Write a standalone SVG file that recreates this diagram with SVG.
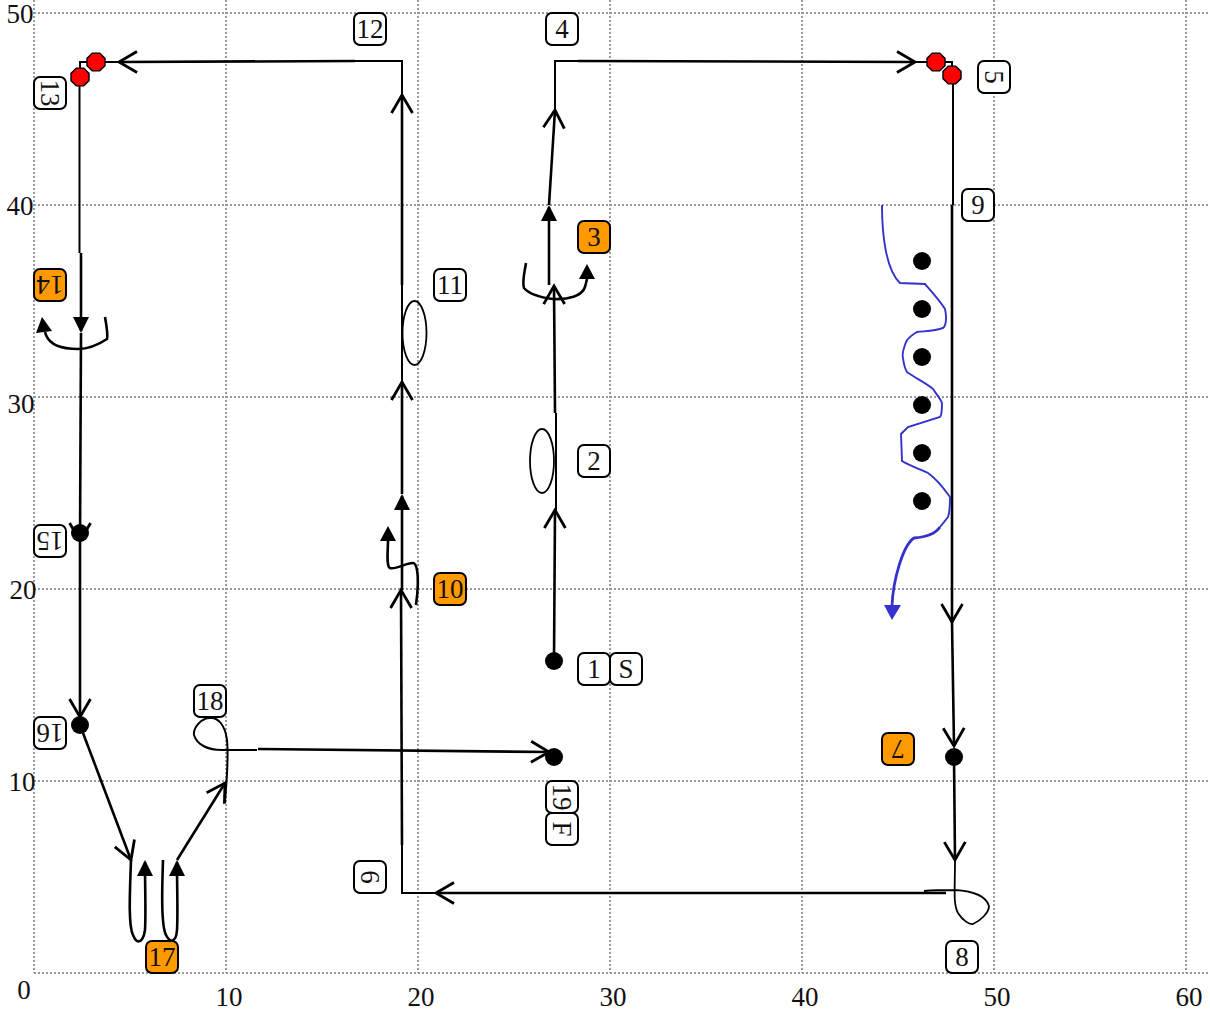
<svg xmlns="http://www.w3.org/2000/svg" width="1210" height="1018" viewBox="0 0 1210 1018">
<style>
text{font-family:"Liberation Serif","Times New Roman",serif;fill:#111}
.ax{font-size:27px;text-anchor:middle}
.lb{font-size:27px;text-anchor:middle;dominant-baseline:central}
.b{fill:#fff;stroke:#000;stroke-width:2}
.o{fill:#ff9900;stroke:#000;stroke-width:2}
.g{stroke:#999;stroke-width:2;stroke-dasharray:2 2;fill:none}
.t{fill:none;stroke:#000;stroke-width:2.6}
.n{fill:none;stroke:#000;stroke-width:2}
.c{fill:none;stroke:#000;stroke-width:1.8}
.op{marker-end:url(#open)}
.so{marker-end:url(#solid)}
.r{fill:#ff0000;stroke:#000;stroke-width:1.4}
</style>
<defs>
<marker id="open" markerUnits="userSpaceOnUse" markerWidth="24" markerHeight="28" refX="21" refY="12" orient="auto" overflow="visible"><path d="M3,1.500 L21,12 L3,22.500" fill="none" stroke="#000" stroke-width="2.800"/></marker>
<marker id="solid" markerUnits="userSpaceOnUse" markerWidth="20" markerHeight="20" refX="14" refY="8" orient="auto" overflow="visible"><polygon points="0,0 16,8 0,16" fill="#000"/></marker>
</defs>
<g id="grid">
<path class="g" d="M34,13H1210M34,205H1210M34,397H1210M34,589H1210M34,781H1210M34,973H1210M34,0V973M226,0V973M418,0V973M610,0V973M802,0V973M994,0V973M1186,0V973"/>
<text class="ax" x="20" y="23">50</text><text class="ax" x="20" y="215">40</text><text class="ax" x="21" y="413">30</text><text class="ax" x="23" y="599">20</text><text class="ax" x="22" y="791">10</text>
<text class="ax" x="24" y="999">0</text><text class="ax" x="229" y="1006">10</text><text class="ax" x="421" y="1006">20</text><text class="ax" x="613" y="1006">30</text><text class="ax" x="805" y="1006">40</text><text class="ax" x="997" y="1006">50</text><text class="ax" x="1189" y="1006">60</text>
</g>
<g id="connectors">
<path class="t op" d="M554,661L555,510"/>
<path class="n" d="M556,510V413"/>
<path class="t op" d="M555,413L554,286"/>
<path class="t so" d="M549,285V207"/>
<path class="t op" d="M549,205L555,110"/>
<path class="n" d="M555,110V61H578"/>
<path class="t op" d="M578,61L915,62"/>
<path class="n" d="M915,62H952V75"/>
<path class="n" d="M953,75V205"/>
<path class="t op" d="M952,205V622"/>
<path class="t op" d="M952,622L954,746"/>
<path class="t op" d="M954,757L955,860"/>
<path class="c" d="M955,860C955,890 953,904 958,913C963,921 970,925 973,924C980,921 989,913 989,906C986,896 972,891 955,890C945,890 935,890 924,891"/>
<path class="t op" d="M946,893H436"/>
<path class="n" d="M436,893H402V845"/>
<path class="t op" d="M402,845L401,590"/>
<path class="t so" d="M402,590V496"/>
<path class="t op" d="M402,494V382"/>
<path class="n" d="M402,382V285"/>
<path class="t op" d="M402,285V95"/>
<path class="n" d="M402,95V61H355"/>
<path class="t op" d="M355,61L119,62"/>
<path class="n" d="M119,62H80V77"/>
<path class="n" d="M79.500,77V253"/>
<path class="t so" d="M81,253V331"/>
<path class="t op" d="M81,333L80,541"/>
<path class="t op" d="M80,533V717"/>
<path class="t op" d="M80,725L131,860"/>
<path class="t so" d="M131,860C130,890 128,925 133,935C137,945 143,943 145,930C146,915 145,890 145,862"/>
<path class="t so" d="M163,860C162,890 161,925 166,935C170,943 176,943 177,930C178,915 177,890 177,862"/>
<path class="t op" d="M177,860L225,783"/>
<path class="n" d="M225,803C226,785 229,760 227,740C225,725 218,717 210,718C201,718 193,728 194,735C197,745 208,750 222,750H257"/>
<path class="t op" d="M258,749L549,752"/>
<path class="t" d="M105,317C107,328 108,335 107,339C95,347 85,349 78,349C62,349 50,345 46,335L45,332"/>
<polygon points="42,317 36,333 52,331" fill="#000"/>
<path class="t" d="M526,263C524,275 522,282 524,288C530,295 545,298 553,299C568,300 582,296 585,287L587,279"/>
<polygon points="587,264 579,279 595,279" fill="#000"/>
<path class="t" d="M416,605C418,590 418,575 417,570C416,565 415,563 413,563C405,563 396,570 390,568C386,566 388,550 388,540"/>
<polygon points="388,526 380,541 396,541" fill="#000"/>
<path d="M882,205C882,235 886,270 900,283L925,284C932,292 941,302 945,309C947,318 946,326 943,328C935,331 925,331 917,332C910,336 908,338 906,342C903,350 902,355 903,358C904,366 905,369 907,372C915,378 925,382 933,389C937,395 940,398 942,403C942,410 942,415 940,417L908,427L901,434L902,461C910,466 920,469 928,473C938,480 945,490 950,497C950,505 950,512 948,517L940,527" fill="none" stroke="#3333cc" stroke-width="1.9"/>
<path d="M940,527C936,533 928,537 914,538C903,545 893,580 892,606" fill="none" stroke="#3333cc" stroke-width="2.800"/>
<polygon points="892,620 884,605 901,605" fill="#3333cc"/>
</g>
<g id="loop-11"><ellipse class="c" cx="414.500" cy="333" rx="12" ry="32"/></g>
<g id="loop-2"><ellipse class="c" cx="542" cy="461" rx="12" ry="32"/></g>
<g id="dots">
<circle cx="922" cy="261" r="9"/><circle cx="922" cy="309" r="9"/><circle cx="922" cy="357" r="9"/><circle cx="922" cy="405" r="9"/><circle cx="922" cy="453" r="9"/><circle cx="922" cy="501" r="9"/>
</g>
<g id="p-start"><circle cx="554" cy="661" r="9"/></g>
<g id="p-end"><circle cx="554" cy="757" r="9"/></g>
<g id="p-7"><circle cx="954" cy="757" r="9"/></g>
<g id="p-15"><circle cx="80" cy="533" r="9"/></g>
<g id="p-16"><circle cx="80" cy="725" r="9"/></g>
<g id="stop-a"><polygon class="r" points="92.300,53.100 99.700,53.100 105,58.400 105,65.600 99.700,70.900 92.300,70.900 87,65.600 87,58.400"/></g>
<g id="stop-b"><polygon class="r" points="76.300,68.100 83.700,68.100 89,73.400 89,80.600 83.700,85.900 76.300,85.900 71,80.600 71,73.400"/></g>
<g id="stop-c"><polygon class="r" points="932.300,53.100 939.700,53.100 945,58.400 945,65.600 939.700,70.900 932.300,70.900 927,65.600 927,58.400"/></g>
<g id="stop-d"><polygon class="r" points="948.300,66.100 955.700,66.100 961,71.400 961,78.600 955.700,83.900 948.300,83.900 943,78.600 943,71.400"/></g>
<g id="n1"><rect class="b" x="578" y="653" width="32" height="32" rx="6"/><text class="lb" x="594" y="669">1</text></g>
<g id="nS"><rect class="b" x="610" y="653" width="32" height="32" rx="6"/><text class="lb" x="626" y="669">S</text></g>
<g id="n2"><rect class="b" x="578" y="445" width="32" height="32" rx="6"/><text class="lb" x="594" y="461">2</text></g>
<g id="n3"><rect class="o" x="578" y="221" width="32" height="32" rx="6"/><text class="lb" x="594" y="237">3</text></g>
<g id="n4"><rect class="b" x="546" y="13" width="32" height="32" rx="6"/><text class="lb" x="562" y="29">4</text></g>
<g id="n5"><rect class="b" x="978" y="61" width="32" height="32" rx="6"/><text class="lb" transform="rotate(90 994 77)" x="994" y="77">5</text></g>
<g id="n9"><rect class="b" x="962" y="189" width="32" height="32" rx="6"/><text class="lb" x="978" y="205">9</text></g>
<g id="n7"><rect class="o" x="882" y="733" width="32" height="32" rx="6"/><text class="lb" transform="rotate(180 898 749)" x="898" y="749">7</text></g>
<g id="n8"><rect class="b" x="946" y="941" width="32" height="32" rx="6"/><text class="lb" x="962" y="957">8</text></g>
<g id="n6"><rect class="b" x="354" y="861" width="32" height="32" rx="6"/><text class="lb" transform="rotate(90 370 877)" x="370" y="877">6</text></g>
<g id="n10"><rect class="o" x="434" y="573" width="32" height="32" rx="6"/><text class="lb" x="450" y="589">10</text></g>
<g id="n11"><rect class="b" x="434" y="269" width="32" height="32" rx="6"/><text class="lb" x="450" y="285">11</text></g>
<g id="n12"><rect class="b" x="354" y="13" width="32" height="32" rx="6"/><text class="lb" x="370" y="29">12</text></g>
<g id="n13"><rect class="b" x="34" y="77" width="32" height="32" rx="6"/><text class="lb" transform="rotate(90 50 93)" x="50" y="93">13</text></g>
<g id="n14"><rect class="o" x="34" y="269" width="32" height="32" rx="6"/><text class="lb" transform="rotate(180 50 285)" x="50" y="285">14</text></g>
<g id="n15"><rect class="b" x="34" y="525" width="32" height="32" rx="6"/><text class="lb" transform="rotate(180 50 541)" x="50" y="541">15</text></g>
<g id="n16"><rect class="b" x="34" y="717" width="32" height="32" rx="6"/><text class="lb" transform="rotate(180 50 733)" x="50" y="733">16</text></g>
<g id="n17"><rect class="o" x="146" y="941" width="32" height="32" rx="6"/><text class="lb" x="162" y="957">17</text></g>
<g id="n18"><rect class="b" x="194" y="685" width="32" height="32" rx="6"/><text class="lb" x="210" y="701">18</text></g>
<g id="n19"><rect class="b" x="546" y="781" width="32" height="32" rx="6"/><text class="lb" transform="rotate(90 562 797)" x="562" y="797">19</text></g>
<g id="nF"><rect class="b" x="546" y="813" width="32" height="32" rx="6"/><text class="lb" transform="rotate(90 562 829)" x="562" y="829">F</text></g>
</svg>
